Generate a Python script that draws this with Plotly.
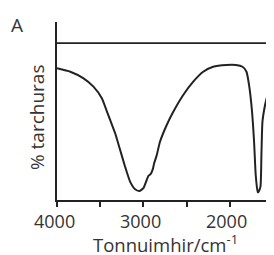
import plotly.graph_objects as go

wavenumber = [4000, 3846, 3693, 3578, 3481, 3423, 3385, 3327, 3269, 3212, 3154, 3096,
              3047, 3000, 2969, 2943, 2915, 2892, 2875, 2846, 2808, 2730, 2654, 2539,
              2423, 2308, 2193, 2038, 1930, 1853, 1807, 1777, 1746, 1719, 1700, 1677,
              1669, 1645, 1634, 1622, 1592, 1546, 1507, 1500]
transmittance = [83.9, 81.7, 77.5, 72.2, 64.8, 56.5, 51.0, 42.5, 31.8, 21.2, 11.7, 6.8,
                 5.7, 7.5, 11.7, 15.3, 16.6, 19.5, 23.5, 28.5, 37.1, 47.8, 56.2, 66.9,
                 75.4, 81.7, 84.9, 86.0, 86.0, 84.9, 81.7, 73.2, 58.4, 37.1, 15.9, 5.3,
                 4.9, 8.5, 28.7, 49.9, 60.5, 71.1, 82.8, 84.7]
tick_vals = [4000, 3500, 3000, 2500, 2000, 1500]
label_vals = [4000, 3000, 2000]
label_text = ["4000", "3000", "2000"]

FONT = "Open Sans"
INK = "#222222"
TXT = "#333333"

fig = go.Figure()
fig.add_trace(go.Scatter(x=wavenumber, y=transmittance, mode="lines",
                         line=dict(color=INK, width=2, shape="spline", smoothing=0.5),
                         hoverinfo="skip", showlegend=False))

# top frame line and right frame line
fig.add_shape(type="line", xref="paper", x0=0, x1=1, yref="y", y0=100, y1=100,
              line=dict(color=INK, width=1.8))
fig.add_shape(type="line", xref="paper", x0=1, x1=1, yref="y", y0=0, y1=100,
              line=dict(color=INK, width=1.8))

annotations = [
    dict(text=t, xref="x", yref="paper", x=v, y=0, xanchor="center", yanchor="middle",
         showarrow=False, xshift=-3, yshift=-21, font=dict(family=FONT, size=18, color=TXT))
    for v, t in zip(label_vals, label_text)
]
annotations += [
    dict(text="A", xref="paper", yref="paper", x=-0.186, y=0.983, xanchor="center",
         yanchor="middle", showarrow=False, font=dict(family=FONT, size=19, color=TXT)),
    dict(text="% tarchuras", xref="paper", yref="paper", x=0, y=0.466, textangle=-90,
         xanchor="center", yanchor="middle", showarrow=False, xshift=-20,
         font=dict(family=FONT, size=19, color=TXT)),
    dict(text="Tonnuimhir/cm<sup>-1</sup>", xref="paper", yref="paper", x=0.5, y=0,
         xanchor="center", yanchor="middle", showarrow=False, yshift=-43,
         font=dict(family=FONT, size=18.5, color=TXT)),
]

fig.update_layout(
    width=266, height=247,
    margin=dict(l=49, r=1, t=14, b=55),
    paper_bgcolor="white", plot_bgcolor="white",
    font=dict(family=FONT, size=18, color=TXT),
    xaxis=dict(range=[4000, 1500], tickvals=tick_vals, showticklabels=False,
               showgrid=False, zeroline=False, showline=True, linecolor=INK, linewidth=1.8,
               ticks="outside", ticklen=5, tickwidth=1.8, tickcolor=INK),
    yaxis=dict(range=[0, 113.4], showticklabels=False, showgrid=False, zeroline=False,
               showline=True, linecolor=INK, linewidth=1.8, ticks=""),
    annotations=annotations,
)

fig.write_html("out.html")
